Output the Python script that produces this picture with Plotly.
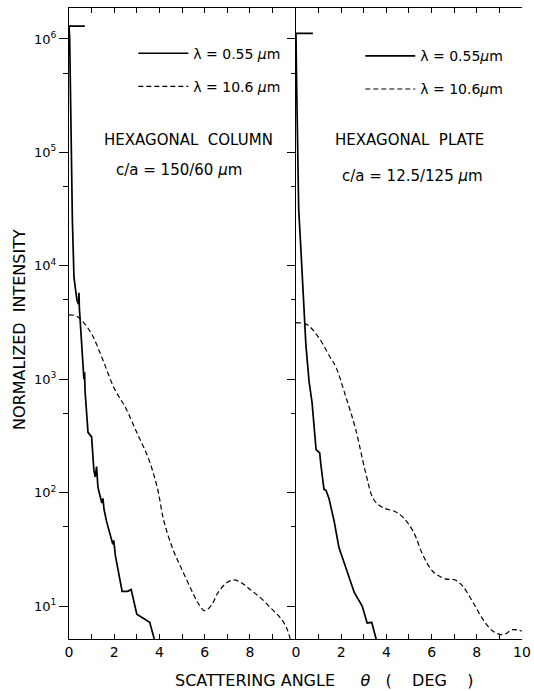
import plotly.graph_objects as go

# Hexagonal column, c/a = 150/60 um
col_solid_theta = [0.7, 0.0, 0.03, 0.06, 0.10, 0.15, 0.22, 0.35, 0.42, 0.44, 0.46, 0.48,
                   0.66, 0.69, 0.71, 0.84, 1.0, 1.1, 1.16, 1.22, 1.28, 1.45, 1.5, 1.55,
                   1.67, 1.94, 1.98, 2.05, 2.35, 2.6, 2.75, 3.0, 3.3, 3.57, 3.85]
col_solid_int = [1.3e6, 1.3e6, 1.0e6, 3.2e5, 1.0e5, 2.5e4, 7900, 5000, 4600, 5800, 4200, 3550,
                 1000, 1150, 790, 340, 310, 158, 138, 170, 112, 81, 89, 71,
                 55, 35, 38, 28, 13.5, 13.5, 14, 8.5, 7.8, 7.2, 4.5]

col_dashed_theta = [0, 0.3, 0.6, 1.0, 1.5, 2.0, 2.5, 3.0, 3.5, 3.9, 4.2, 4.6, 5.0, 5.4,
                    5.7, 6.0, 6.3, 6.6, 7.0, 7.3, 7.6, 8.0, 8.5, 9.0, 9.3, 9.6, 9.85]
col_dashed_int = [3700, 3630, 3240, 2510, 1480, 832, 562, 339, 204, 112, 56, 31.6, 20.9, 14.1,
                  10.7, 9.1, 10.2, 13.2, 16.2, 17.0, 16.2, 14.1, 11.7, 9.3, 8.1, 6.6, 4.6]

# Hexagonal plate, c/a = 12.5/125 um
plate_solid_theta = [0.75, 0.0, 0.03, 0.07, 0.12, 0.22, 0.35, 0.44, 0.58, 0.71, 0.89, 1.05,
                     1.1, 1.24, 1.33, 1.46, 1.69, 1.9, 2.2, 2.58, 2.93, 3.15, 3.35, 3.65]
plate_solid_int = [1.12e6, 1.12e6, 4.0e5, 1.0e5, 3.2e4, 1.38e4, 5000, 2000, 955, 630, 240, 224,
                   178, 107, 105, 89, 56, 33, 22, 13.2, 10, 7.1, 7.2, 4.3]

plate_dashed_theta = [0, 0.5, 1.0, 1.5, 1.76, 2.2, 2.64, 3.08, 3.44, 3.83, 4.4, 4.76, 5.2,
                      5.64, 6.08, 6.6, 7.05, 7.4, 7.84, 8.28, 8.72, 9.15, 9.6, 10.0]
plate_dashed_int = [3160, 3020, 2340, 1580, 1290, 708, 363, 151, 87, 74, 68, 60, 45,
                    27.5, 20, 17.4, 17, 14.8, 10.7, 7.6, 6.0, 5.6, 6.2, 6.0]

x_left_labels = [0, 2, 4, 6, 8]
x_right_labels = [0, 2, 4, 6, 8, 10]
x_odd = [1, 3, 5, 7, 9]
y_major = [10, 100, 1e3, 1e4, 1e5, 1e6]
y_minor = [50, 500, 5e3, 5e4, 5e5]
y_labels = ["10<sup>1</sup>", "10<sup>2</sup>", "10<sup>3</sup>",
            "10<sup>4</sup>", "10<sup>5</sup>", "10<sup>6</sup>"]

FONT = "DejaVu Sans"
solid = dict(color="black", width=1.7)
dashed = dict(color="black", width=1.2, dash="5px,3px", shape="spline", smoothing=1.0)

fig = go.Figure()
fig.add_trace(go.Scatter(x=col_solid_theta, y=col_solid_int, mode="lines", line=solid,
                         name="λ = 0.55 <i>μ</i>m", legend="legend", legendgroup="a",
                         xaxis="x", yaxis="y"))
fig.add_trace(go.Scatter(x=col_dashed_theta, y=col_dashed_int, mode="lines", line=dashed,
                         name="λ = 10.6 <i>μ</i>m", legend="legend", legendgroup="b",
                         xaxis="x", yaxis="y"))
fig.add_trace(go.Scatter(x=plate_solid_theta, y=plate_solid_int, mode="lines", line=solid,
                         name="λ = 0.55<i>μ</i>m", legend="legend2", legendgroup="c",
                         xaxis="x2", yaxis="y2"))
fig.add_trace(go.Scatter(x=plate_dashed_theta, y=plate_dashed_int, mode="lines", line=dashed,
                         name="λ = 10.6<i>μ</i>m", legend="legend2", legendgroup="d",
                         xaxis="x2", yaxis="y2"))

yrange = [0.71, 6.273]
xcommon = dict(range=[0, 10], tickmode="array", ticks="inside", ticklen=5,
               tickcolor="black", showline=True, linecolor="black", linewidth=1.2,
               mirror="ticks", showgrid=False, zeroline=False, automargin=False,
               tickfont=dict(size=14, family=FONT, color="black"),
               minor=dict(tickmode="array", tickvals=x_odd, ticks="inside", ticklen=5,
                          tickcolor="black", showgrid=False))
ycommon = dict(type="log", range=yrange, tickmode="array", tickvals=y_major,
               showline=True, linecolor="black", linewidth=1.2, showgrid=False,
               zeroline=False, automargin=False, tickcolor="black",
               tickfont=dict(size=13, family=FONT, color="black"))

fig.update_layout(
    width=534, height=691,
    margin=dict(l=69, r=12, t=8, b=52),
    paper_bgcolor="white", plot_bgcolor="white",
    font=dict(family=FONT, color="black", size=14),
    xaxis=dict(xcommon, domain=[0, 0.499], anchor="y", tickvals=x_left_labels,
               ticktext=[str(v) for v in x_left_labels]),
    xaxis2=dict(xcommon, domain=[0.501, 1], anchor="y2", tickvals=x_right_labels,
                ticktext=[str(v) for v in x_right_labels]),
    yaxis=dict(ycommon, anchor="x", side="left", ticks="outside", ticklen=9,
               ticktext=y_labels,
               minor=dict(tickmode="array", tickvals=y_minor, ticks="outside", ticklen=5,
                          tickcolor="black", showgrid=False)),
    yaxis2=dict(ycommon, anchor="x2", side="left", ticks="outside", ticklen=8,
                showticklabels=False,
                minor=dict(tickmode="array", tickvals=y_minor, ticks="outside", ticklen=4,
                           tickcolor="black", showgrid=False)),
    yaxis3=dict(ycommon, anchor="x2", overlaying="y2", side="right", ticks="inside",
                ticklen=8, showticklabels=False,
                minor=dict(tickmode="array", tickvals=y_minor, ticks="inside", ticklen=5,
                           tickcolor="black", showgrid=False)),
    legend=dict(x=0.142, y=0.953, xanchor="left", yanchor="top", bgcolor="rgba(0,0,0,0)",
                font=dict(size=14, family=FONT), itemwidth=50, tracegroupgap=12,
                traceorder="grouped"),
    legend2=dict(x=0.643, y=0.949, xanchor="left", yanchor="top", bgcolor="rgba(0,0,0,0)",
                 font=dict(size=14, family=FONT), itemwidth=50, tracegroupgap=12,
                 traceorder="grouped"),
    showlegend=True,
)

note = dict(showarrow=False, xanchor="center", yanchor="middle",
            font=dict(size=15, family=FONT, color="black"))
fig.add_annotation(note, text="HEXAGONAL  COLUMN", xref="x domain", yref="y domain",
                   x=0.527, y=0.791)
fig.add_annotation(note, text="c/a = 150/60 <i>μ</i>m", xref="x domain", yref="y domain",
                   x=0.487, y=0.743)
fig.add_annotation(note, text="HEXAGONAL  PLATE", xref="x2 domain", yref="y2 domain",
                   x=0.502, y=0.791)
fig.add_annotation(note, text="c/a = 12.5/125 <i>μ</i>m", xref="x2 domain", yref="y2 domain",
                   x=0.515, y=0.734)

# axis titles
title = dict(showarrow=False, xanchor="center", yanchor="middle",
             font=dict(size=16, family=FONT, color="black"))
fig.add_annotation(title, text="SCATTERING ANGLE     <i>θ</i>   (    DEG    )",
                   xref="paper", yref="paper", x=0.565, y=-0.065)
fig.add_annotation(title, text="NORMALIZED  INTENSITY",
                   xref="paper", yref="paper", x=-0.108, y=0.49, textangle=-90)

# the page body has a default 8px margin; drop it so the figure sits at the window corner
fig.write_html("out.html", config={"displayModeBar": False},
               post_script="document.body.style.margin='0px';")
